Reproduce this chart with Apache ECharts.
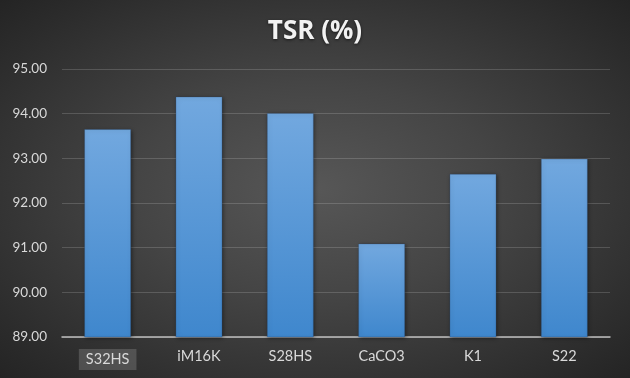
<!DOCTYPE html>
<html>
<head>
    <meta charset="utf-8">
    <title>TSR</title>
    <script src="https://cdn.jsdelivr.net/npm/echarts@6/dist/echarts.min.js"></script>
    <style>
        html, body { margin: 0; padding: 0; }
        #main {
            width: 630px;
            height: 378px;
            background: radial-gradient(ellipse at 50% 50%, #575757 0%, #454545 40%, #2c2c2c 85%, #242424 100%);
        }
    </style>
</head>
<body>
<div id="main"></div>
<script type="text/javascript">
    // 数据
    var categories = ['S32HS', 'iM16K', 'S28HS', 'CaCO3', 'K1', 'S22'];
    var tsrValues = [93.65, 94.38, 94.01, 91.09, 92.65, 92.99];
    var yMin = 89, yMax = 95, yStep = 1;

    var myChart = echarts.init(document.getElementById('main'));

    var option = {
        backgroundColor: 'transparent',
        title: {
            text: 'TSR (%)',
            left: 'center',
            top: 14,
            textStyle: {
                color: '#f2f2f2',
                fontFamily: 'Open Sans',
                fontWeight: 'bold',
                fontSize: 26,
                textShadowColor: 'rgba(0,0,0,0.6)',
                textShadowBlur: 3,
                textShadowOffsetY: 1
            }
        },
        grid: { left: 62, right: 20, top: 69, bottom: 41 },
        xAxis: {
            type: 'category',
            data: categories,
            axisTick: { show: false },
            axisLine: { lineStyle: { color: '#bfbfbf', width: 1.5 } },
            axisLabel: {
                interval: 0,
                color: '#d9d9d9',
                fontFamily: 'Lato',
                fontSize: 14.5,
                margin: 12,
                formatter: function (v, i) {
                    return i === 0 ? '{sel|' + v + '}' : v;
                },
                rich: {
                    sel: {
                        color: '#d9d9d9',
                        fontFamily: 'Lato',
                        fontSize: 14.5,
                        backgroundColor: 'rgba(110,110,110,0.55)',
                        padding: [3, 7, 3, 7]
                    }
                }
            }
        },
        yAxis: {
            type: 'value',
            min: yMin,
            max: yMax,
            interval: yStep,
            axisLine: { show: false },
            axisTick: { show: false },
            axisLabel: {
                color: '#d9d9d9',
                fontFamily: 'Lato',
                fontSize: 13.5,
                margin: 15,
                formatter: function (v) { return v.toFixed(2); }
            },
            splitLine: { lineStyle: { color: 'rgba(255,255,255,0.16)', width: 1 } }
        },
        series: [{
            type: 'bar',
            data: tsrValues,
            barWidth: '51%',
            itemStyle: {
                color: new echarts.graphic.LinearGradient(0, 0, 0, 1, [
                    { offset: 0, color: '#72a8df' },
                    { offset: 1, color: '#3f87cd' }
                ]),
                borderColor: 'rgba(40,70,110,0.6)',
                borderWidth: 0.5,
                shadowColor: 'rgba(0,0,0,0.45)',
                shadowBlur: 4,
                shadowOffsetX: 1,
                shadowOffsetY: 1
            }
        }],
        animation: false
    };

    myChart.setOption(option);
</script>
</body>
</html>
